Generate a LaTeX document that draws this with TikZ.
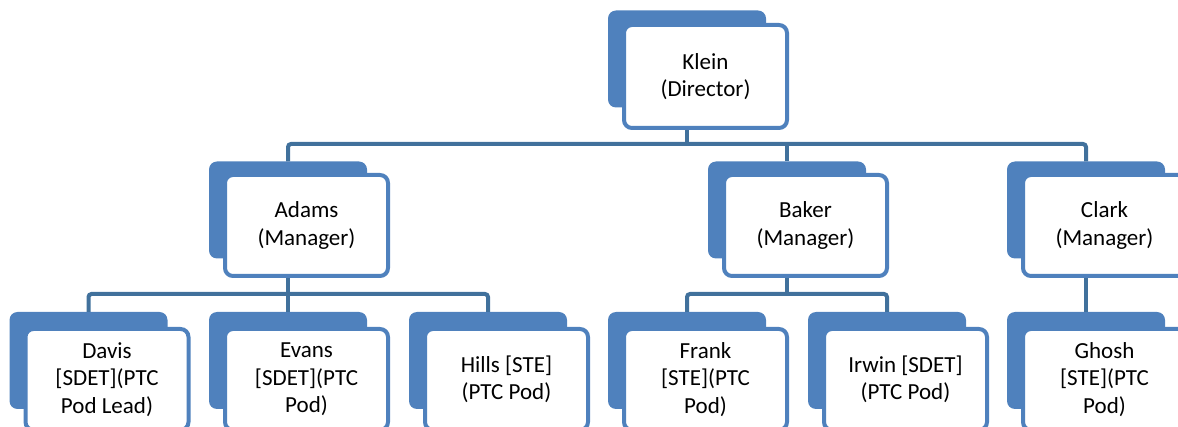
\documentclass[tikz,border=0pt]{standalone}
\usepackage{fontspec}
\setmainfont{Carlito}
\definecolor{boxblue}{HTML}{4F81BD}
\definecolor{connblue}{HTML}{41719C}
\begin{document}
\begin{tikzpicture}[x=1pt,y=-1pt,
  backbox/.style={fill=boxblue, draw=none, rounded corners=8pt, minimum width=158pt, minimum height=97pt, inner sep=0pt},
  frontbox/.style={fill=white, draw=boxblue, line width=4pt, rounded corners=8pt, minimum width=163pt, minimum height=101pt, inner sep=0pt, align=center, font=\fontsize{23}{27.5}\selectfont, text=black},
  conn/.style={draw=connblue, line width=4pt, rounded corners=3pt}]
\useasboundingbox (0,0) rectangle (1178,427);
\clip (0,0) rectangle (1178,427);
\coordinate (bus1) at (0,144);
\coordinate (bus2) at (0,294);
% back boxes
\node[backbox] (kleinB) at (687,59) {};
\node[backbox] (adamsB) at (288,210) {};
\node[backbox] (bakerB) at (787,210) {};
\node[backbox] (clarkB) at (1086,210) {};
\node[backbox] (davisB) at (88.5,360.5) {};
\node[backbox] (evansB) at (288,360.5) {};
\node[backbox] (hillsB) at (488,360.5) {};
\node[backbox] (frankB) at (687,360.5) {};
\node[backbox] (irwinB) at (887,360.5) {};
\node[backbox] (ghoshB) at (1086,360.5) {};
% connectors
\draw[conn] (kleinB |- 0,128) -- (kleinB |- bus1);
\draw[conn] (adamsB.north) -- (adamsB |- bus1) -- (clarkB |- bus1) -- (clarkB.north);
\draw[conn] (bakerB.north) -- (bakerB |- bus1);
\draw[conn] (adamsB |- 0,276) -- (evansB.north);
\draw[conn] (davisB.north) -- (davisB |- bus2) -- (hillsB |- bus2) -- (hillsB.north);
\draw[conn] (bakerB |- 0,276) -- (bakerB |- bus2);
\draw[conn] (frankB.north) -- (frankB |- bus2) -- (irwinB |- bus2) -- (irwinB.north);
\draw[conn] (clarkB |- 0,276) -- (ghoshB.north);
% front boxes
\node[frontbox, minimum height=103pt] (kleinF) at (705.5,76.5) {Klein\\(Director)};
\node[frontbox] (adamsF) at (306.5,225.5) {Adams\\(Manager)};
\node[frontbox] (bakerF) at (805.5,225.5) {Baker\\(Manager)};
\node[frontbox] (clarkF) at (1104.5,225.5) {Clark\\(Manager)};
\node[frontbox] (davisF) at (107,379.5) {Davis\\{}[SDET](PTC\\Pod Lead)};
\node[frontbox] (evansF) at (306.5,379.5) {Evans\\{}[SDET](PTC\\Pod)};
\node[frontbox] (hillsF) at (506.5,379.5) {Hills [STE]\\(PTC Pod)};
\node[frontbox] (frankF) at (705.5,379.5) {Frank\\{}[STE](PTC\\Pod)};
\node[frontbox] (irwinF) at (905.5,379.5) {Irwin [SDET]\\(PTC Pod)};
\node[frontbox] (ghoshF) at (1104.5,379.5) {Ghosh\\{}[STE](PTC\\Pod)};
\end{tikzpicture}
\end{document}
